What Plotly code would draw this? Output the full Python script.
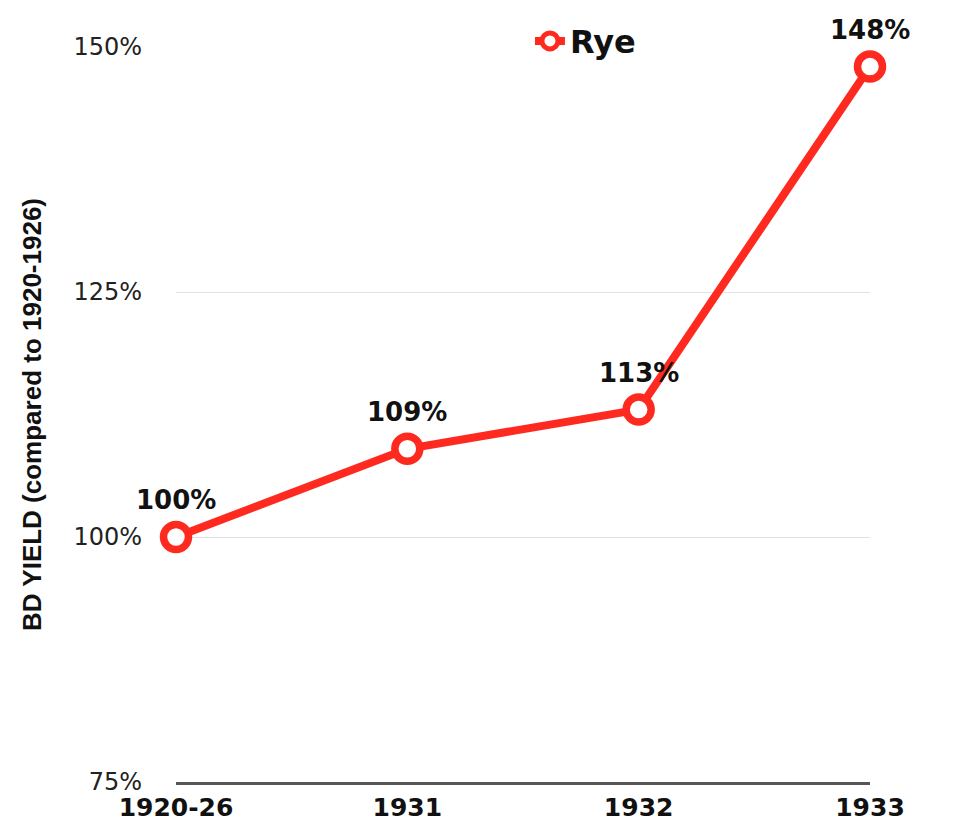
import plotly.graph_objects as go

categories = ["1920-26", "1931", "1932", "1933"]
rye_values = [100, 109, 113, 148]
label_texts = ["100%", "109%", "113%", "148%"]
y_ticks = [75, 100, 125, 150]
y_tick_labels = ["75%", "100%", "125%", "150%"]

RED = "#FF2A1F"
WIDE = "DejaVu Sans, Verdana, sans-serif"

x_pos = list(range(len(categories)))

fig = go.Figure()
fig.add_trace(go.Scatter(
    x=x_pos, y=rye_values,
    mode="lines+markers",
    name="Rye",
    line=dict(color=RED, width=8),
    marker=dict(size=25, color="white", line=dict(color=RED, width=7.5)),
    cliponaxis=False,
))

for xi, yi, t in zip(x_pos, rye_values, label_texts):
    fig.add_annotation(
        x=xi, y=yi, text=f"<b>{t}</b>", showarrow=False,
        yshift=37, xanchor="center", yanchor="middle",
        font=dict(family=WIDE, size=26, color="#111111"),
    )

# page body adds an 8px offset; margins compensate for it
fig.update_layout(
    width=959, height=825,
    margin=dict(l=168, r=97, t=39, b=51, autoexpand=False),
    paper_bgcolor="white", plot_bgcolor="white",
    showlegend=True,
    legend=dict(
        x=0.59, y=1.008, xanchor="center", yanchor="middle",
        font=dict(family=WIDE, size=32, color="#111111", weight="bold"),
        bgcolor="rgba(0,0,0,0)",
    ),
    font=dict(family="Liberation Sans, Arial"),
)
fig.update_xaxes(
    range=[0, 3], tickvals=x_pos, ticktext=[f"<b>{c}</b>" for c in categories],
    showgrid=False, zeroline=False,
    showline=True, linecolor="#555555", linewidth=3,
    tickfont=dict(family=WIDE, size=25, color="#111111"),
    ticks="", ticklabelstandoff=1,
)
fig.update_yaxes(
    range=[75, 150], tickvals=y_ticks, ticktext=y_tick_labels,
    showgrid=True, gridcolor="#e3e3e3", gridwidth=1,
    zeroline=False, showline=False, ticks="",
    tickfont=dict(family=WIDE, size=24, color="#222222"),
    ticklabelstandoff=33,
    title=dict(text="<b>BD YIELD (compared to 1920-1926)</b>",
               font=dict(family="Liberation Sans, Arial", size=26, color="#111111"),
               standoff=24),
)

fig.write_html("out.html")
